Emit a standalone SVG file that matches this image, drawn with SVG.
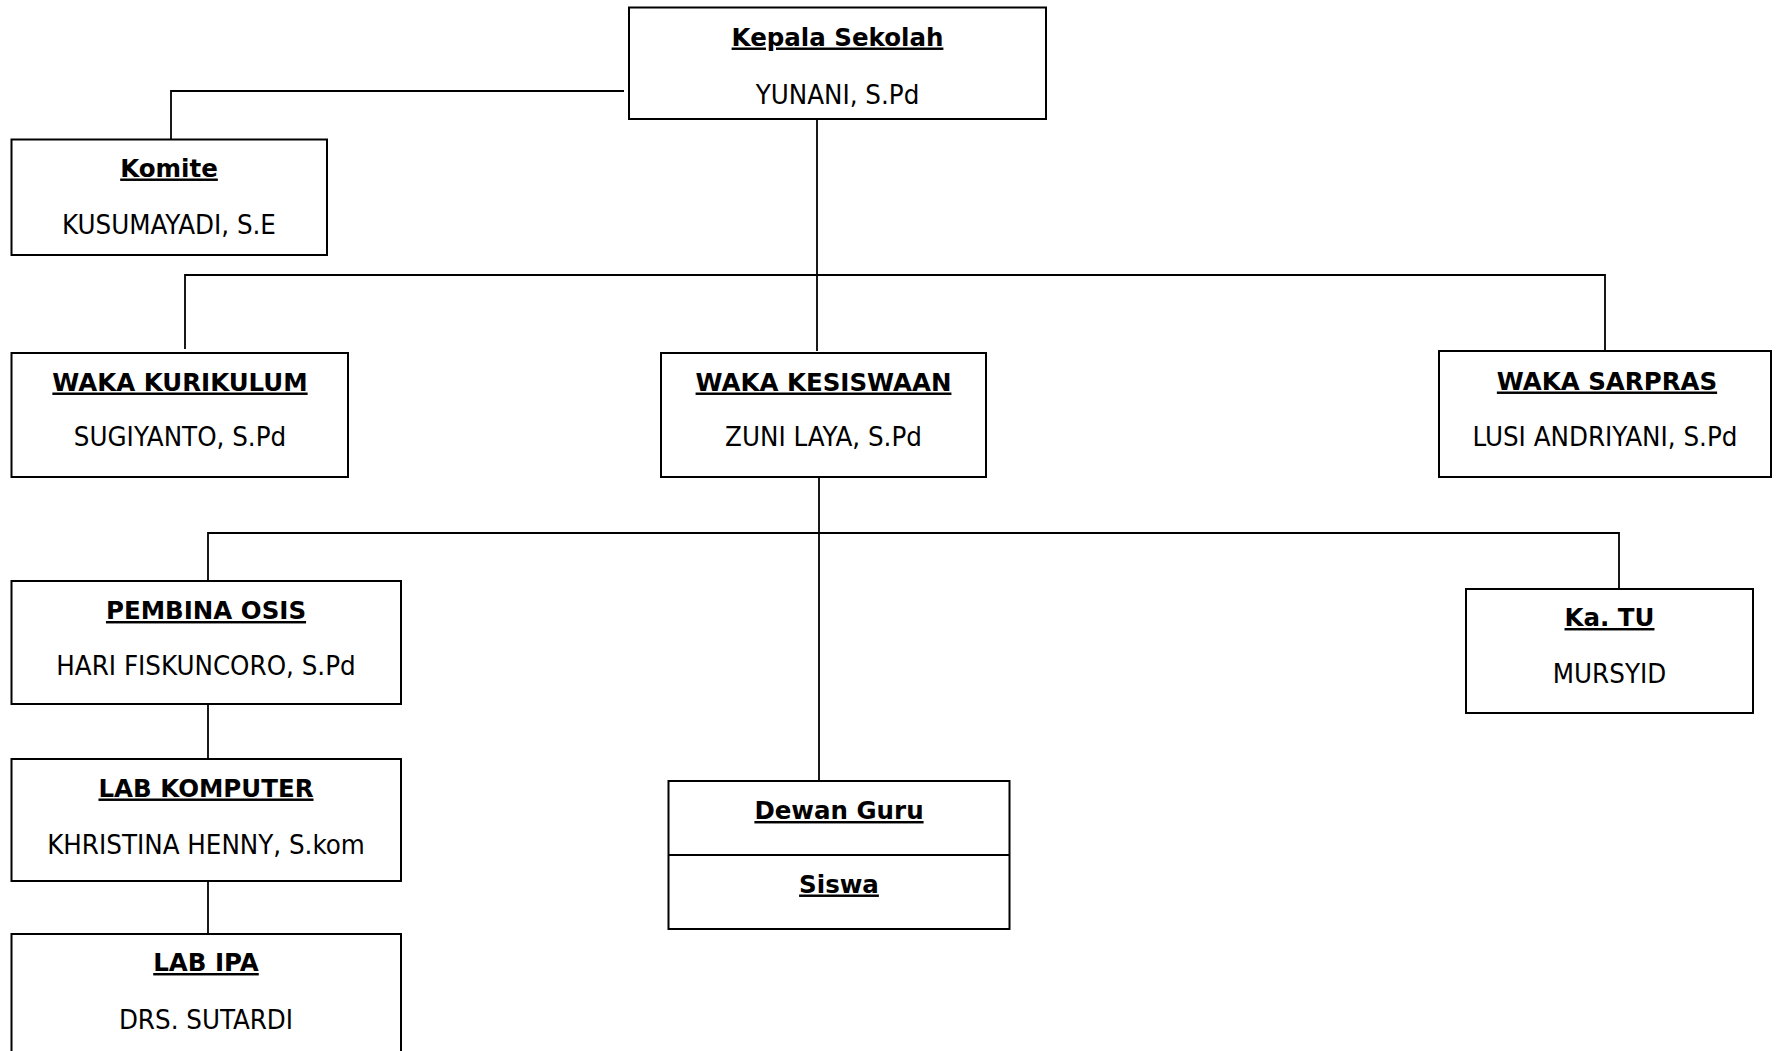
<svg xmlns="http://www.w3.org/2000/svg" width="1781" height="1051" viewBox="0 0 1781 1051">
<style>
.box{fill:#fff;stroke:#000;stroke-width:2}
.conn{fill:none;stroke:#000;stroke-width:1.8}
.t{font-family:"DejaVu Sans","Verdana",sans-serif;font-weight:bold;font-size:24.5px;text-anchor:middle;text-decoration:underline;fill:#000}
.n{font-family:"DejaVu Sans Condensed","DejaVu Sans",sans-serif;font-stretch:condensed;font-size:27.4px;text-anchor:middle;fill:#000}
</style>
<rect width="1781" height="1051" fill="#fff"/>
<g id="connectors">
<path class="conn" d="M624,91 H171 V143"/>
<path class="conn" d="M817,120 V351"/>
<path class="conn" d="M185,349 V275 H1605 V351"/>
<path class="conn" d="M819,477 V781"/>
<path class="conn" d="M208,581 V533 H1619 V589"/>
<path class="conn" d="M208,704 V759"/>
<path class="conn" d="M208,881 V934"/>
</g>
<g id="kepala">
<rect class="box" x="629" y="7.5" width="417" height="111.5"/>
<text class="t" x="837.5" y="45.5">Kepala Sekolah</text>
<text class="n" x="837.5" y="104">YUNANI, S.Pd</text>
</g>
<g id="komite">
<rect class="box" x="11.5" y="139.5" width="315.5" height="115.5"/>
<text class="t" x="169" y="176.5">Komite</text>
<text class="n" x="169" y="233.5">KUSUMAYADI, S.E</text>
</g>
<g id="waka-kurikulum">
<rect class="box" x="11.5" y="353" width="336.5" height="124"/>
<text class="t" x="180" y="390.5">WAKA KURIKULUM</text>
<text class="n" x="180" y="446">SUGIYANTO, S.Pd</text>
</g>
<g id="waka-kesiswaan">
<rect class="box" x="661" y="353" width="325" height="124"/>
<text class="t" x="823.5" y="390.5">WAKA KESISWAAN</text>
<text class="n" x="823.5" y="446">ZUNI LAYA, S.Pd</text>
</g>
<g id="waka-sarpras">
<rect class="box" x="1439" y="351" width="332" height="126"/>
<text class="t" x="1607" y="389.5">WAKA SARPRAS</text>
<text class="n" x="1605" y="445.5">LUSI ANDRIYANI, S.Pd</text>
</g>
<g id="pembina-osis">
<rect class="box" x="11.5" y="581" width="389.5" height="123"/>
<text class="t" x="206" y="619">PEMBINA OSIS</text>
<text class="n" x="206" y="674.5">HARI FISKUNCORO, S.Pd</text>
</g>
<g id="ka-tu">
<rect class="box" x="1466" y="589" width="287" height="124"/>
<text class="t" x="1609.5" y="626">Ka. TU</text>
<text class="n" x="1609.5" y="683">MURSYID</text>
</g>
<g id="lab-komputer">
<rect class="box" x="11.5" y="759" width="389.5" height="122"/>
<text class="t" x="206" y="796.5">LAB KOMPUTER</text>
<text class="n" x="206" y="853.5">KHRISTINA HENNY, S.kom</text>
</g>
<g id="lab-ipa">
<rect class="box" x="11.5" y="934" width="389.5" height="140"/>
<text class="t" x="206" y="971">LAB IPA</text>
<text class="n" x="206" y="1028.5">DRS. SUTARDI</text>
</g>
<g id="dewan-guru-siswa">
<rect class="box" x="668.5" y="781" width="341" height="148"/>
<line class="box" x1="668.5" y1="855" x2="1009.5" y2="855"/>
<text class="t" x="839" y="819">Dewan Guru</text>
<text class="t" x="839" y="892.5">Siswa</text>
</g>
</svg>
